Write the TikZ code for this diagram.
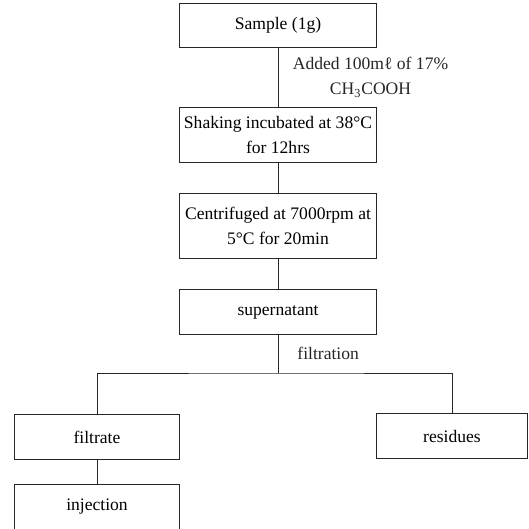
\documentclass[tikz,border=0pt]{standalone}
\usepackage{fontspec}
\setmainfont{Liberation Serif}
\usetikzlibrary{
  calc,
  positioning
}
\colorlet{ink}{black!85}
\tikzset{
  connector/.style={draw=ink, line width=0.6pt},
  stepbox/.style={
    draw=ink,
    fill=white,
    line width=0.6pt,
    minimum width=4.33cm,
    minimum height=0.97cm,
    inner sep=3pt,
    align=center,
    font=\fontsize{11}{15.5}\selectfont
  },
  endbox/.style={
    stepbox,
    minimum width=3.63cm
  },
  step label/.style={font=\fontsize{11}{15.5}\selectfont, text=ink, align=center}
}

\begin{document}
\begin{tikzpicture}[x=0.022cm,y=-0.022cm]
  \useasboundingbox (0,0) rectangle (529,529);

  \node[stepbox] (sample) at (278,25.5) {Sample (1g)};
  \node[stepbox, minimum height=1.23cm] (shaking) at (278,135) {Shaking incubated at 38°C\\for 12hrs};
  \node[stepbox, minimum height=1.41cm] (centri) at (278,226) {Centrifuged at 7000rpm at\\5°C for 20min};
  \node[stepbox] (super) at (278,312) {supernatant};

  \node[endbox] (filtrate) at (97,437) {filtrate};
  \node[endbox] (inject) at (97,507) {injection};
  \node[endbox, minimum width=3.34cm] (residues) at (452,436) {residues};

  \coordinate (branch) at (278,373);

  \draw[connector] (sample.south) -- node[step label, midway, right=0.2cm] {Added 100mℓ of 17\%\\CH\textsubscript{3}COOH} (shaking.north);
  \draw[connector] (shaking.south) -- (centri.north);
  \draw[connector] (centri.south) -- (super.north);
  \draw[connector] (super.south) -- node[step label, midway, right=0.3cm] {filtration} (branch);
  \draw[connector] (filtrate.north) |- (branch) -| (residues.north);
  \draw[connector] (filtrate.south) -- (inject.north);
\end{tikzpicture}
\end{document}
